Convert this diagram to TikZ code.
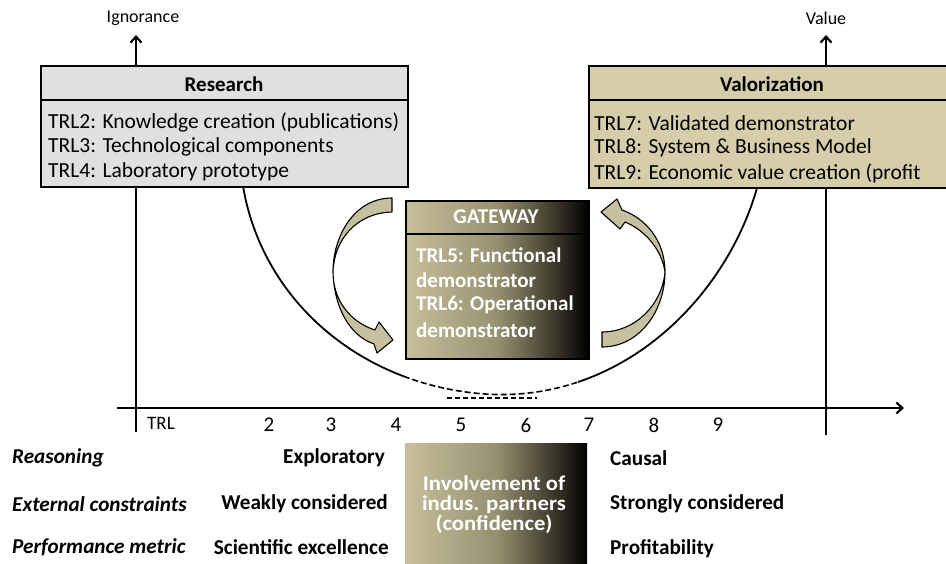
\documentclass[tikz,border=0pt]{standalone}
\usepackage{fontspec}
\setmainfont{Carlito}
\usetikzlibrary{arrows.meta}
\definecolor{resfill}{RGB}{224,224,224}
\definecolor{valfill}{RGB}{214,205,170}
\definecolor{arrfill}{RGB}{196,192,160}
\definecolor{gwA}{RGB}{200,192,155}
\definecolor{gwB}{RGB}{150,144,112}
\definecolor{gwC}{RGB}{70,66,50}
\pgfdeclarehorizontalshading{gwshade}{100bp}{color(0bp)=(gwA); color(25bp)=(gwA); color(50bp)=(gwB); color(64bp)=(gwC); color(75bp)=(black); color(100bp)=(black)}
\begin{document}
\begin{tikzpicture}[x=1pt,y=-1pt,
  axis/.style={line width=2.2pt,-{Straight Barb[length=6pt,width=11pt]}},
  ucurve/.style={line width=1.8pt},
  boxline/.style={line width=1.6pt},
  txt/.style={font=\fontsize{21.5}{24}\selectfont, inner sep=0pt, anchor=west},
  hdr/.style={font=\fontsize{21}{24}\selectfont\bfseries, inner sep=0pt},
  gwtxt/.style={font=\fontsize{21}{24}\selectfont\bfseries, inner sep=0pt, anchor=west, text=white},
  num/.style={font=\fontsize{21}{24}\selectfont, inner sep=0pt},
  rowlbl/.style={font=\fontsize{21.2}{24}\selectfont\bfseries\itshape, inner sep=0pt, anchor=west},
  lefttxt/.style={font=\fontsize{21.2}{24}\selectfont\bfseries, inner sep=0pt, anchor=east},
  righttxt/.style={font=\fontsize{21.2}{24}\selectfont\bfseries, inner sep=0pt, anchor=west},
  curvarrow/.style={fill=arrfill, draw=black, line width=1.1pt, line join=round}
]
\useasboundingbox (0,0) rectangle (946,563);
\clip (0,0) rectangle (946,563);
\fill[white] (0,0) rectangle (946,563);

% axes
\coordinate (lb) at (136,432); \coordinate (lt) at (136,35);
\coordinate (rb) at (826,435); \coordinate (rt) at (826,35);
\coordinate (hl) at (117,408); \coordinate (hr) at (904,408);
\draw[axis] (lb) -- (lt);
\draw[axis] (rb) -- (rt);
\draw[axis] (hl) -- (hr);
\node[font=\fontsize{18}{20}\selectfont, inner sep=0pt] (ign) at (143,18) {Ignorance};
\node[font=\fontsize{18}{20}\selectfont, inner sep=0pt] (val) at (826,18) {Value};

% U curve
\coordinate (c0) at (243,186);
\coordinate (c1) at (485,394);
\coordinate (c2) at (757,188);
\begin{scope}
  \clip (0,0) rectangle (405,563) (578,0) rectangle (946,563);
  \draw[ucurve] (c0) .. controls (262,300) and (360,385) .. (c1) .. controls (620,403) and (725,300) .. (c2);
\end{scope}
\begin{scope}
  \clip (405,0) rectangle (578,563);
  \draw[ucurve, line width=1.6pt, dash pattern=on 6pt off 3pt] (c0) .. controls (262,300) and (360,385) .. (c1) .. controls (620,403) and (725,300) .. (c2);
\end{scope}
\coordinate (d0) at (447,398); \coordinate (d1) at (537,398);
\draw[line width=1.6pt, dash pattern=on 5pt off 3pt] (d0) -- (d1);

% Research box
\node[boxline, draw, fill=resfill, minimum width=367pt, minimum height=121pt, inner sep=0pt, anchor=north west] (res) at (40,65) {};
\draw[boxline] (40,100) -- (407,100);
\node[hdr] (reshdr) at (224,84) {Research};
\node[txt] (r2) at (48,122) {TRL2: Knowledge creation (publications)};
\node[txt] (r3) at (48,147) {TRL3: Technological components};
\node[txt] (r4) at (48,172) {TRL4: Laboratory prototype};

% Valorization box
\node[boxline, draw, fill=valfill, minimum width=372pt, minimum height=122pt, inner sep=0pt, anchor=north west] (valbox) at (588,65) {};
\draw[boxline] (588,100) -- (960,100);
\node[hdr] (valhdr) at (772,84) {Valorization};
\node[txt] (v7) at (594,123) {TRL7: Validated demonstrator};
\node[txt] (v8) at (594,148) {TRL8: System \& Business Model};
\node[txt] (v9) at (594,173) {TRL9: Economic value creation (profit};

% Gateway box
\node[boxline, draw, shade, shading=gwshade, minimum width=183pt, minimum height=158pt, inner sep=0pt, anchor=north west] (gw) at (405,200) {};
\draw[boxline] (405,234) -- (588,234);
\node[hdr, text=white] (gwhdr) at (496,217) {GATEWAY};
\node[gwtxt] (g1) at (416,255) {TRL5: Functional};
\node[gwtxt] (g2) at (416,280) {demonstrator};
\node[gwtxt] (g3) at (416,305) {TRL6: Operational};
\node[gwtxt] (g4) at (416,330) {demonstrator};

% curved arrows
\draw[curvarrow] (392,198) .. controls (355,198) and (333,235) .. (333,272)
  .. controls (333,300) and (350,322) .. (375,330)
  -- (379,322) -- (393,340) -- (377,353) -- (374,344)
  .. controls (348,335) and (334,305) .. (333,272)
  .. controls (334,240) and (356,213) .. (392,212) -- cycle;
\draw[curvarrow] (602,347) .. controls (640,347) and (665,310) .. (665,272)
  .. controls (665,240) and (645,218) .. (622,210)
  -- (617,199) -- (601,212) -- (620,229) -- (625,222)
  .. controls (645,230) and (662,250) .. (665,272)
  .. controls (662,305) and (635,332) .. (602,332) -- cycle;

% TRL scale
\node[font=\fontsize{19}{21}\selectfont, inner sep=0pt] (trl) at (161,423) {TRL};
\node[num] (n2) at (269,425) {2};
\node[num] (n3) at (331,425) {3};
\node[num] (n4) at (396,425) {4};
\node[num] (n5) at (461,425) {5};
\node[num] (n6) at (526,425) {6};
\node[num] (n7) at (589,425) {7};
\node[num] (n8) at (654,425) {8};
\node[num] (n9) at (718,425) {9};

% bottom involvement box
\node[shade, shading=gwshade, minimum width=182pt, minimum height=130pt, inner sep=0pt, anchor=north west] (inv) at (405,443) {};
\node[font=\fontsize{21}{20}\selectfont\bfseries, text=white, align=center, inner sep=0pt, xscale=1.08] (invtxt) at (494,505) {Involvement of\\indus. partners\\(confidence)};

% rows
\node[rowlbl] (reas) at (12,458) {Reasoning};
\node[rowlbl] (ext) at (12,504) {External constraints};
\node[rowlbl] (perf) at (12,547) {Performance metric};
\node[lefttxt] (expl) at (385,458) {Exploratory};
\node[lefttxt] (weak) at (388,504) {Weakly considered};
\node[lefttxt] (sci) at (389,547) {Scientific excellence};
\node[righttxt] (caus) at (610,458) {Causal};
\node[righttxt] (strong) at (610,504) {Strongly considered};
\node[righttxt] (prof) at (610,549) {Profitability};
\end{tikzpicture}
\end{document}
